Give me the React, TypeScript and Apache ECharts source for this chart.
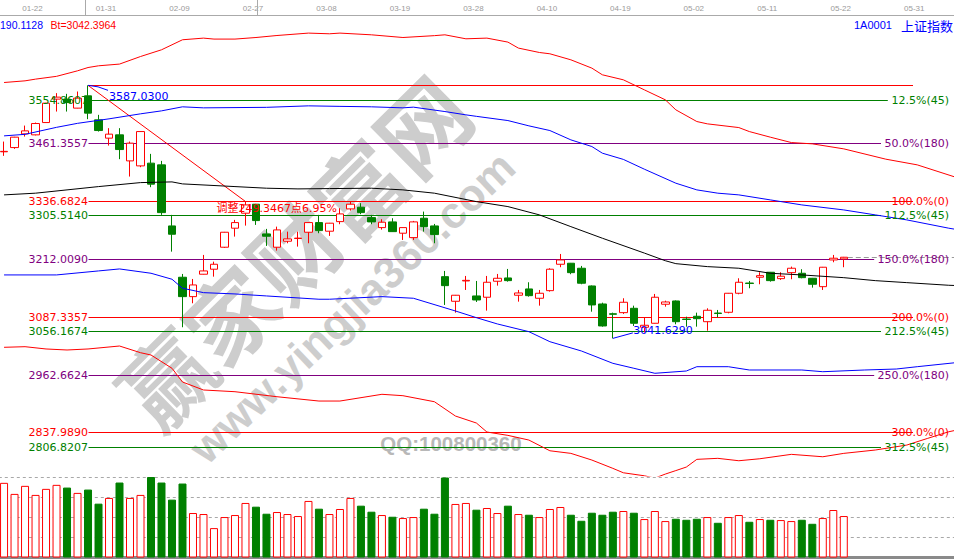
import React, { useEffect, useRef } from "react";
import * as echarts from "echarts";

// ---------- data ----------
const dates = [
  "01-17","01-18","01-19","01-22","01-23","01-24","01-25","01-26","01-29","01-30",
  "01-31","02-01","02-02","02-05","02-06","02-07","02-08","02-09","02-12","02-13",
  "02-14","02-22","02-23","02-26","02-27","02-28","03-01","03-02","03-05","03-06",
  "03-07","03-08","03-09","03-12","03-13","03-14","03-15","03-16","03-19","03-20",
  "03-21","03-22","03-23","03-26","03-27","03-28","03-29","03-30","04-02","04-03",
  "04-04","04-09","04-10","04-11","04-12","04-13","04-16","04-17","04-18","04-19",
  "04-20","04-23","04-24","04-25","04-26","04-27","05-02","05-03","05-04","05-07",
  "05-08","05-09","05-10","05-11","05-14","05-15","05-16","05-17","05-18","05-21",
  "05-22","05-23","05-24","05-25","05-28","05-29","05-30","05-31","06-01","06-04",
  "06-05","06-06"
];

// [open, close, low, high]
const candles = [
  [3443.8,3444.7,3435.0,3465.8],[3452.9,3475.3,3450.1,3476.0],[3482.4,3488.9,3476.6,3500.3],
  [3480.3,3504.7,3479.2,3506.8],[3506.8,3548.6,3506.2,3549.3],[3557.3,3561.6,3530.5,3570.2],
  [3557.3,3549.9,3530.5,3568.7],[3537.9,3559.4,3537.4,3573.7],[3564.4,3527.1,3514.1,3587.03],
  [3512.6,3489.6,3487.4,3523.4],[3473.2,3481.8,3457.2,3494.7],[3480.3,3448.6,3427.9,3494.7],
  [3424.2,3462.4,3390.4,3465.8],[3413.4,3487.4,3410.6,3487.8],[3419.3,3374.0,3367.5,3439.3],
  [3415.6,3312.7,3307.8,3424.2],[3284.0,3266.1,3228.6,3307.8],[3173.4,3131.6,3065.6,3180.5],
  [3131.6,3156.8,3117.3,3169.7],[3179.9,3187.0,3179.4,3221.5],[3190.7,3201.4,3174.7,3207.0],
  [3238.1,3270.4,3236.6,3271.1],[3279.1,3291.2,3261.0,3297.0],[3311.4,3329.3,3284.7,3336.4],
  [3330.8,3295.5,3286.2,3331.5],[3266.8,3261.8,3240.9,3277.6],[3238.1,3275.4,3230.8,3282.5],
  [3251.0,3256.0,3246.7,3271.7],[3256.9,3257.7,3239.4,3271.7],[3270.4,3291.2,3246.7,3291.6],
  [3291.2,3273.9,3268.3,3307.8],[3272.6,3289.9,3262.5,3290.5],[3293.3,3309.9,3287.7,3322.2],
  [3320.7,3330.8,3317.0,3336.4],[3324.4,3312.7,3309.3,3333.0],[3301.9,3292.7,3287.7,3307.8],
  [3280.4,3292.0,3276.1,3298.5],[3292.7,3271.7,3271.1,3300.6],[3268.3,3280.4,3253.8,3280.8],
  [3258.8,3292.7,3253.8,3294.8],[3300.6,3282.5,3271.7,3314.9],[3284.0,3265.3,3246.7,3288.3],
  [3174.7,3155.3,3113.7,3187.0],[3121.6,3134.6,3097.1,3135.2],[3165.4,3166.7,3146.0,3176.2],
  [3133.1,3124.4,3120.1,3165.4],[3130.3,3162.6,3101.4,3176.2],[3164.8,3171.2,3155.3,3180.5],
  [3171.9,3166.1,3163.9,3191.3],[3134.6,3139.5,3120.8,3146.0],[3148.2,3133.7,3131.6,3162.6],
  [3128.1,3138.9,3112.2,3146.0],[3144.5,3190.7,3142.4,3192.8],[3201.4,3210.7,3195.0,3223.6],
  [3203.6,3183.3,3179.9,3204.2],[3192.8,3160.5,3158.3,3197.8],[3154.6,3113.7,3099.2,3155.7],
  [3115.8,3068.4,3066.9,3118.6],[3094.7,3093.6,3041.629,3097.1],[3097.1,3119.5,3094.3,3128.1],
  [3106.5,3074.2,3068.4,3112.2],[3065.6,3069.9,3053.9,3087.1],[3074.2,3130.3,3073.8,3137.4],
  [3115.2,3120.1,3110.0,3122.9],[3122.3,3077.6,3072.0,3123.4],[3083.3,3082.4,3066.9,3088.4],
  [3089.3,3084.1,3066.9,3097.1],[3077.6,3102.2,3058.2,3106.5],[3096.2,3095.4,3087.1,3102.9],
  [3097.9,3138.9,3095.6,3139.5],[3138.9,3162.6,3136.7,3171.2],[3160.9,3160.0,3149.7,3165.4],
  [3173.4,3176.8,3158.3,3184.2],[3184.2,3166.1,3163.9,3184.8],[3170.4,3175.6,3167.6,3184.2],
  [3183.3,3192.8,3169.1,3196.3],[3182.0,3172.5,3171.2,3190.7],[3171.2,3158.3,3151.0,3171.9],
  [3153.1,3195.0,3146.0,3195.6],[3210.7,3214.4,3205.7,3221.5],[3212.9,3216.5,3195.0,3217.2]
];

const volumes = [
  74.2,63.2,71.2,62.2,68.2,72.2,69.5,64.2,67.5,53.5,
  59.2,74.5,59.2,62.2,80.0,74.5,57.5,73.5,44.2,43.2,
  29.2,40.2,42.2,54.2,50.5,43.5,45.2,43.2,41.2,56.2,
  48.5,43.2,48.2,59.2,51.5,45.5,42.2,40.5,39.2,40.2,
  48.5,43.5,79.5,53.2,54.2,47.5,49.2,44.2,51.5,43.2,
  42.5,40.2,48.2,50.2,42.5,36.5,44.5,42.5,45.5,46.2,
  44.5,38.2,46.2,36.2,38.5,37.5,38.5,40.2,34.5,40.2,
  42.2,35.5,38.2,37.5,37.2,36.2,37.5,33.5,39.2,47.2,
  41.2
];

const upperOuter = [
  [0,3593.1],[2,3596.7],[3,3600.4],[5,3606.4],[7,3618.3],[8,3625.4],[9,3629.1],[11,3632.8],
  [13,3649.1],[15,3663.6],[17,3685.2],[19,3688.8],[20,3686.7],[22,3686.7],[24,3690.1],[26,3694.4],
  [29,3699.6],[31,3698.1],[32,3699.6],[35,3695.9],[38,3690.1],[41,3694.1],[42,3695.9],[44,3687.3],
  [46,3688.8],[48,3680.2],[49,3667.3],[51,3657.8],[52,3655.0],[54,3642.0],[56,3624.1],[57,3609.7],
  [59,3598.9],[61,3577.3],[63,3555.8],[64,3534.2],[66,3509.0],[67,3504.0],[70,3496.0],[71,3487.4],
  [73,3475.3],[75,3463.7],[77,3460.9],[80,3450.1],[84,3427.9],[87,3415.6],[91,3386.5]
];
const upperInner = [
  [0,3478.1],[2,3481.4],[5,3496.5],[7,3505.1],[10,3514.8],[13,3525.6],[15,3532.0],[17,3540.7],
  [19,3538.5],[25,3539.6],[29,3542.8],[32,3541.7],[35,3540.7],[38,3538.5],[39,3540.0],[42,3530.5],
  [44,3523.4],[45,3520.2],[48,3511.1],[50,3499.7],[52,3489.6],[54,3469.5],[56,3455.1],[57,3440.8],
  [59,3427.4],[61,3406.3],[64,3376.1],[66,3361.7],[68,3354.6],[70,3350.9],[73,3340.1],[76,3329.3],
  [80,3318.5],[83,3307.8],[86,3297.0],[90,3279.1],[91,3275.4]
];
const middleBand = [
  [0,3350.9],[3,3354.6],[6,3361.7],[9,3368.8],[13,3377.4],[16,3378.9],[17,3374.6],[22,3368.8],
  [25,3365.3],[28,3363.8],[31,3364.5],[35,3365.3],[38,3361.7],[41,3354.6],[45,3336.4],[48,3325.7],
  [51,3307.8],[54,3282.5],[57,3257.5],[61,3225.5],[63,3209.0],[64,3202.7],[67,3196.3],[70,3192.8],
  [73,3182.0],[76,3178.4],[80,3172.5],[83,3166.1],[86,3161.8],[90,3156.1],[91,3155.3]
];
const lowerInner = [
  [0,3178.4],[5,3178.4],[9,3187.0],[11,3191.3],[14,3182.0],[16,3169.1],[17,3149.7],[19,3140.2],
  [22,3137.4],[25,3133.1],[30,3126.0],[31,3126.0],[36,3131.6],[39,3128.1],[43,3100.7],[45,3086.3],
  [47,3072.7],[50,3056.1],[52,3034.5],[55,3014.5],[58,2987.9],[60,2977.2],[62,2966.4],[65,2971.3],
  [66,2980.6],[69,2980.6],[71,2973.5],[76,2973.5],[78,2969.8],[82,2973.5],[85,2975.6],[87,2980.6],
  [91,2990.1]
];
const lowerOuter = [
  [0,3022.4],[2,3023.7],[4,3018.8],[6,3016.6],[8,3018.8],[11,3025.2],[13,3010.8],[14,3005.8],
  [16,2977.2],[17,2947.6],[19,2930.4],[22,2926.7],[26,2915.9],[30,2906.6],[32,2906.6],[36,2921.1],
  [38,2918.1],[41,2905.1],[43,2874.3],[45,2859.2],[46,2839.8],[48,2832.6],[50,2822.5],[52,2799.4],
  [54,2793.8],[56,2779.4],[58,2761.5],[59,2752.0],[61,2745.5],[62,2740.6],[63,2749.2],[64,2756.7],
  [65,2764.3],[66,2780.9],[68,2783.1],[70,2777.9],[72,2782.2],[75,2791.7],[78,2786.5],[80,2793.8],
  [83,2801.0],[86,2811.7],[88,2826.2],[90,2840.4],[91,2845.2]
];

const levelPercents = [0, 12.5, 50, 100, 112.5, 150, 200, 212.5, 250, 300, 312.5];
const levelPeriods = [0, 45, 180, 0, 45, 180, 0, 45, 180, 0, 45];
const levelValues = [3586.0291, 3554.8607, 3461.3557, 3336.6824, 3305.514, 3212.009, 3087.3357, 3056.1674, 2962.6624, 2837.989, 2806.8207];
const swingEndIndex = 23;
const swingText = "调整249.3467点6.95%";
const headerValue = "190.1128";
const headerBt = "Bt=3042.3964";
const stockCode = "1A0001";
const stockName = "上证指数";
const watermarkCn = "赢家财富网";
const watermarkUrl = "www.yingjia360.com";
const watermarkQQ = "QQ:100800360";

// ---------- styles ----------
const RED = "#ff0000";
const GREEN = "#008000";
const PURPLE = "#800080";
const BLUE = "#0000ff";
const FONT = '"DejaVu Sans", "Noto Sans CJK SC", sans-serif';
const FONT2 = '"Liberation Sans", "Noto Sans CJK SC", sans-serif';

export default function App() {
  const ref = useRef<HTMLDivElement>(null);
  useEffect(() => {
    const chart = echarts.init(ref.current!, null, { renderer: "svg" });
    const lineSeries = (data: number[][], color: string) => ({
      type: "line",
      xAxisIndex: 0,
      yAxisIndex: 0,
      data,
      symbol: "none",
      silent: true,
      clip: true,
      lineStyle: { color, width: 1 },
      z: 3,
    });
    chart.setOption({
      animation: false,
      backgroundColor: "#ffffff",
      grid: [
        { left: -1.2, right: -10.5, top: 15, height: 461, containLabel: false, outerBoundsMode: "none" },
        { left: -1.2, right: -10.5, top: 477, height: 80.5, containLabel: false, outerBoundsMode: "none" },
      ],
      xAxis: [
        {
          type: "category",
          gridIndex: 0,
          data: dates,
          boundaryGap: true,
          position: "top",
          axisLine: { show: true, onZero: false, lineStyle: { color: "#aaaaaa", width: 1 } },
          axisTick: { show: false },
          splitLine: { show: false },
          axisLabel: {
            show: true,
            interval: (index: number) => index >= 3 && (index - 3) % 7 === 0,
            color: "#9a9a9a",
            fontSize: 8,
            fontFamily: FONT2,
            margin: 3,
            padding: [0, 6, 0, 0],
          },
        },
        {
          type: "category",
          gridIndex: 1,
          data: dates,
          boundaryGap: true,
          axisLine: { show: true, lineStyle: { color: "#8a8a8a", width: 3 } },
          axisTick: { show: false },
          axisLabel: { show: false },
          splitLine: { show: false },
        },
      ],
      yAxis: [
        { type: "value", gridIndex: 0, min: 2745.03, max: 3738.61, show: false },
        {
          type: "value",
          gridIndex: 1,
          min: 0,
          max: 80,
          interval: 20,
          axisLine: { show: false },
          axisTick: { show: false },
          axisLabel: { show: false },
          splitLine: { show: true, lineStyle: { color: "#a8a8a8", type: [3, 3], width: 1 } },
        },
      ],
      series: [
        {
          type: "candlestick",
          xAxisIndex: 0,
          yAxisIndex: 0,
          data: candles,
          barWidth: 8,
          silent: true,
          z: 2,
          itemStyle: {
            color: "#ffffff",
            color0: GREEN,
            borderColor: RED,
            borderColor0: GREEN,
            borderWidth: 1,
          },
        },
        lineSeries(upperOuter, RED),
        lineSeries(upperInner, BLUE),
        lineSeries(middleBand, "#000000"),
        lineSeries(lowerInner, BLUE),
        lineSeries(lowerOuter, RED),
        {
          type: "bar",
          xAxisIndex: 1,
          yAxisIndex: 1,
          barWidth: 8,
          silent: true,
          data: volumes.map((v, i) => {
            const up = candles[i][1] >= candles[i][0];
            return {
              value: v,
              itemStyle: up
                ? { color: "#ffffff", borderColor: RED, borderWidth: 1 }
                : { color: GREEN, borderColor: GREEN, borderWidth: 1 },
            };
          }),
        },
      ],
    });

    const px = (i: number, v: number) =>
      chart.convertToPixel({ xAxisIndex: 0, yAxisIndex: 0 }, [i, v]) as number[];
    const crisp = (y: number) => Math.floor(y) + 0.5;

    let hi = 0, lo = 0;
    candles.forEach((c, i) => {
      if (c[3] > candles[hi][3]) hi = i;
      if (c[2] < candles[lo][2]) lo = i;
    });
    const highVal = candles[hi][3];
    const lowVal = candles[lo][2];
    const hp = px(hi, highVal);
    const lp = px(lo, lowVal);
    const x0 = Math.round(hp[0]) + 0.5;
    const TZ = 10;

    const els: any[] = [];
    // watermark
    els.push({
      type: "text", x: 292, y: 250, rotation: 0.78, z: 0, silent: true,
      style: { text: watermarkCn, fill: "#cdcdcd", fontSize: 90, fontWeight: "bold", fontFamily: '"Noto Sans CJK SC", sans-serif', align: "center", verticalAlign: "middle" },
    });
    els.push({
      type: "text", x: 352, y: 307, rotation: 0.76, z: 0, silent: true,
      style: { text: watermarkUrl, fill: "#cdcdcd", fontSize: 44, fontWeight: "bold", fontFamily: FONT2, align: "center", verticalAlign: "middle" },
    });
    els.push({
      type: "text", x: 451, y: 443, z: 0, silent: true,
      style: { text: watermarkQQ, fill: "#b8b8b8", fontSize: 20.5, fontWeight: "bold", fontFamily: FONT2, align: "center", verticalAlign: "middle" },
    });

    // level lines
    levelValues.forEach((v, k) => {
      const g = levelPeriods[k];
      const col = g === 0 ? RED : g === 45 ? GREEN : PURPLE;
      const y = crisp(px(hi, v)[1]);
      const label = `${levelPercents[k].toFixed(1)}%(${g})`;
      const xEnd = g === 0 ? 913 : 949 - label.length * 6.8;
      els.push({ type: "line", z: 1, silent: true, shape: { x1: x0, y1: y, x2: xEnd, y2: y }, style: { stroke: col, lineWidth: 1 } });
      if (k > 0) {
        els.push({ type: "text", z: TZ, silent: true, x: x0 - 0.5, y, style: { text: v.toFixed(4), fill: col, fontSize: 11, fontFamily: FONT, align: "right", verticalAlign: "middle" } });
        els.push({ type: "text", z: TZ, silent: true, x: 949, y, style: { text: label, fill: col, fontSize: 11, fontFamily: FONT, align: "right", verticalAlign: "middle" } });
      }
    });

    // swing diagonal
    const sp = px(swingEndIndex, levelValues[3]);
    els.push({ type: "line", z: 1, silent: true, shape: { x1: hp[0], y1: hp[1], x2: sp[0], y2: sp[1] }, style: { stroke: RED, lineWidth: 1 } });
    els.push({ type: "text", z: TZ, silent: true, x: sp[0] - 29, y: sp[1] + 6.6, style: { text: swingText, fill: RED, fontSize: 11, fontFamily: FONT, align: "left", verticalAlign: "middle" } });

    // high / low annotations
    els.push({ type: "polyline", z: TZ, silent: true, shape: { points: [[hp[0], hp[1]], [hp[0] + 10, hp[1] + 1.5], [hp[0] + 20, hp[1] + 5]] }, style: { stroke: BLUE, lineWidth: 1, fill: "none" } });
    els.push({ type: "text", z: TZ, silent: true, x: hp[0] + 21, y: hp[1] + 11.5, style: { text: highVal.toFixed(4), fill: BLUE, fontSize: 11, fontFamily: FONT, align: "left", verticalAlign: "middle" } });
    els.push({ type: "line", z: TZ, silent: true, shape: { x1: lp[0], y1: lp[1], x2: lp[0] + 20, y2: lp[1] - 5.5 }, style: { stroke: BLUE, lineWidth: 1 } });
    els.push({ type: "text", z: TZ, silent: true, x: lp[0] + 20.5, y: lp[1] - 7.5, style: { text: lowVal.toFixed(4), fill: BLUE, fontSize: 11, fontFamily: FONT, align: "left", verticalAlign: "middle" } });

    // last price dashed line
    const last = candles.length - 1;
    const cp = px(last, candles[last][1]);
    const cy = crisp(cp[1]);
    els.push({ type: "line", z: 1, silent: true, shape: { x1: cp[0] + 4, y1: cy, x2: 954, y2: cy }, style: { stroke: "#999999", lineWidth: 1, lineDash: [5, 3] } });

    // header
    els.push({ type: "line", z: 1, silent: true, shape: { x1: 85.5, y1: 0, x2: 85.5, y2: 15 }, style: { stroke: "#aaaaaa", lineWidth: 1 } });
    els.push({ type: "line", z: 1, silent: true, shape: { x1: 257.5, y1: 0, x2: 257.5, y2: 15 }, style: { stroke: "#aaaaaa", lineWidth: 1 } });
    els.push({ type: "text", z: TZ, silent: true, x: 0, y: 25, style: { text: headerValue, fill: BLUE, fontSize: 10.5, fontFamily: FONT2, align: "left", verticalAlign: "middle" } });
    els.push({ type: "text", z: TZ, silent: true, x: 50.5, y: 25, style: { text: headerBt, fill: RED, fontSize: 10.5, fontFamily: FONT2, align: "left", verticalAlign: "middle" } });
    els.push({ type: "text", z: TZ, silent: true, x: 854, y: 25, style: { text: stockCode, fill: BLUE, fontSize: 11, fontFamily: FONT2, align: "left", verticalAlign: "middle" } });
    els.push({ type: "text", z: TZ, silent: true, x: 953, y: 25, style: { text: stockName, fill: BLUE, fontSize: 13, fontFamily: '"Noto Sans CJK SC", sans-serif', align: "right", verticalAlign: "middle" } });

    chart.setOption({ graphic: { elements: els } });
    return () => chart.dispose();
  }, []);
  return (
    <div
      ref={ref}
      style={{ position: "fixed", left: 0, top: 0, width: 954, height: 559, background: "#ffffff" }}
    />
  );
}
